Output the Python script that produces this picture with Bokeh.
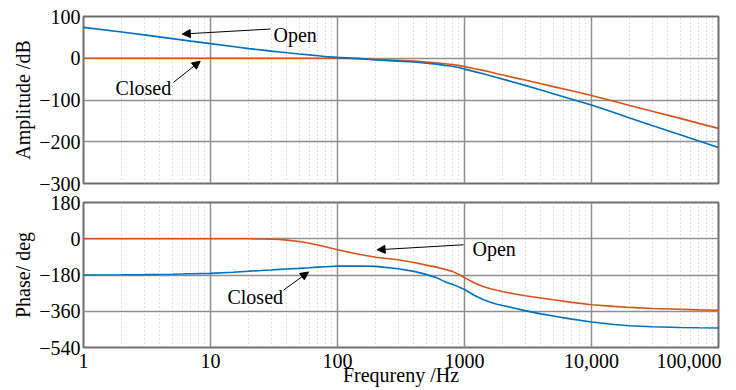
from bokeh.plotting import figure
from bokeh.layouts import column
from bokeh.models import FixedTicker, Label, Arrow, NormalHead
from bokeh.embed import file_html
from bokeh.resources import INLINE

# ---------------- data ----------------
freq = [1, 2, 3, 5, 7, 10, 15, 20, 25, 30, 35, 40, 50, 60, 70, 80, 100, 150, 200, 300,
        400, 500, 600, 700, 800, 900, 1000, 1200, 1400, 1600, 1800, 2000, 2500, 3000,
        4000, 5000, 7000, 10000, 15000, 20000, 30000, 50000, 70000, 100000]

amp_open = [74, 63, 56, 47, 41, 35, 28, 23, 20, 17, 15, 13, 10, 8, 6, 4, 2, -1, -4, -7,
            -9, -12, -14, -17, -19, -22, -26, -32, -37, -42, -46, -50, -58, -65,
            -76, -85, -98, -112, -130, -143, -161, -183, -198, -214]          # blue
amp_closed = [0, 0, 0, 0, 0, 0, 0, 0, 0, 0, 0, 0, 0, 0, 0, 0, 0, -1, -3, -5,
              -7, -9, -11, -13, -15, -17, -20, -25, -29, -33, -37, -40, -47, -52,
              -61, -68, -78, -89, -103, -113, -127, -144, -156, -168]         # orange

phase_open = [0, 0, 0, 0, 0, 0, 0, 0, -1, -2, -4, -7, -14, -22, -31, -40, -55, -78, -92, -104,
              -118, -131, -141, -151, -162, -176, -193, -220, -237, -248, -256, -263, -274, -283,
              -294, -303, -316, -328, -336, -341, -346, -350, -353, -355]     # orange
phase_closed = [-180, -179, -178, -176, -174, -172, -166, -161, -158, -155, -152, -150, -147,
                -144, -141, -139, -136, -135, -137, -149, -162, -177, -193, -213, -226, -239,
                -252, -282, -302, -315, -325, -331, -345, -357, -373, -384, -399, -413, -426,
                -432, -437, -441, -442, -443]                                 # blue

x_ticks = [1, 10, 100, 1000, 10000, 100000]
x_tick_labels = ["1", "10", "100", "1000", "10,000", "100,000"]
amp_ticks = [100, 0, -100, -200, -300]
amp_tick_labels = ["100", "0", "\u2212100", "\u2212200", "\u2212300"]
phase_ticks = [180, 0, -180, -360, -540]
phase_tick_labels = ["180", "0", "\u2212180", "\u2212360", "\u2212540"]

BLUE = "#0072BD"
ORANGE = "#D95319"
FONT = "Liberation Serif"

minor = [m * 10 ** k for k in range(5) for m in range(2, 10)]


def style(p, yticks, ylabels, ylabel):
    p.xaxis.ticker = FixedTicker(ticks=x_ticks, minor_ticks=minor)
    p.xgrid.ticker = FixedTicker(ticks=x_ticks, minor_ticks=minor)
    p.yaxis.ticker = FixedTicker(ticks=yticks)
    p.yaxis.major_label_overrides = dict(zip(yticks, ylabels))
    p.yaxis.axis_label = ylabel
    for ax in p.axis:
        ax.axis_line_color = None
        ax.major_tick_line_color = None
        ax.minor_tick_line_color = None
        ax.major_tick_out = 0
        ax.major_tick_in = 0
        ax.minor_tick_out = 0
        ax.minor_tick_in = 0
        ax.major_label_text_font = FONT
        ax.major_label_text_font_size = "20px"
        ax.major_label_text_color = "black"
        ax.major_label_standoff = 3
        ax.axis_label_text_font = FONT
        ax.axis_label_text_font_size = "20px"
        ax.axis_label_text_font_style = "normal"
        ax.axis_label_text_color = "black"
        ax.axis_label_standoff = 2
    p.xgrid.grid_line_color = "#8f8f8f"
    p.xgrid.grid_line_width = 1.5
    p.xgrid.minor_grid_line_color = "#bdbdbd"
    p.xgrid.minor_grid_line_dash = "1 3"
    p.xgrid.minor_grid_line_width = 1
    p.ygrid.grid_line_color = "#8f8f8f"
    p.ygrid.grid_line_width = 1.5
    p.outline_line_color = "#6e6e6e"
    p.outline_line_width = 2
    p.background_fill_color = "white"
    p.border_fill_color = "white"


def note(p, text, tx, ty, x0, y0, x1, y1):
    p.add_layout(Label(x=tx, y=ty, text=text, text_font=FONT, text_font_size="20px",
                       text_baseline="middle", text_align="left", text_color="black"))
    p.add_layout(Arrow(x_start=x0, y_start=y0, x_end=x1, y_end=y1, line_color="black",
                       line_width=1,
                       end=NormalHead(size=8, fill_color="black", line_color="black")))


# ---------------- amplitude ----------------
p1 = figure(width=736, height=193, x_axis_type="log", x_range=(1, 100000),
            y_range=(-300, 100), output_backend="svg", toolbar_location=None,
            min_border_left=83, min_border_right=18, min_border_top=16, min_border_bottom=10)
style(p1, amp_ticks, amp_tick_labels, "Amplitude /dB")
p1.xaxis.visible = False
p1.line(freq, amp_closed, line_color=ORANGE, line_width=1.6)
p1.line(freq, amp_open, line_color=BLUE, line_width=1.6)
note(p1, "Open", 31.3, 55, 29.7, 70, 6.0, 58)
note(p1, "Closed", 1.79, -72, 5.1, -58, 8.3, -7)

# ---------------- phase ----------------
p2 = figure(width=736, height=197, x_axis_type="log", x_range=(1, 100000),
            y_range=(-540, 180), output_backend="svg", toolbar_location=None,
            min_border_left=83, min_border_right=18, min_border_top=9, min_border_bottom=43)
style(p2, phase_ticks, phase_tick_labels, "Phase/ deg")
labels = list(x_tick_labels)
labels[-1] = labels[-1] + "\u00a0" * 3
p2.xaxis.major_label_overrides = dict(zip(x_ticks, labels))
p2.xaxis.major_label_standoff = 2
p2.xaxis.axis_label = "Frequreny /Hz"
p2.xaxis.axis_label_standoff = -11
p2.line(freq, phase_open, line_color=ORANGE, line_width=1.6)
p2.line(freq, phase_closed, line_color=BLUE, line_width=1.6)
note(p2, "Open", 1156, -50, 982, -30, 205, -55)
note(p2, "Closed", 13.6, -290, 37.6, -255, 59.1, -165)

layout = column(p1, p2)
open("out.html", "w").write(file_html(layout, INLINE))
